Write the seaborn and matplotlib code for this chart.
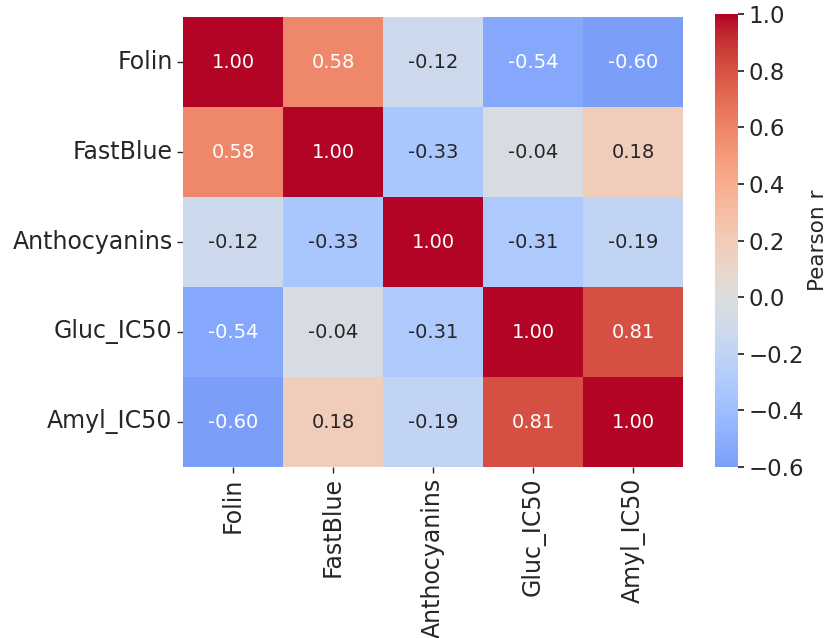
import numpy as np
import pandas as pd
import matplotlib
matplotlib.use("Agg")
import matplotlib.pyplot as plt
import seaborn as sns

# variables and their pearson correlations
labels = ["Folin", "FastBlue", "Anthocyanins", "Gluc_IC50", "Amyl_IC50"]
r_folin = [1.00, 0.58, -0.12, -0.54, -0.60]
r_fastblue = [0.58, 1.00, -0.33, -0.04, 0.18]
r_antho = [-0.12, -0.33, 1.00, -0.31, -0.19]
r_gluc = [-0.54, -0.04, -0.31, 1.00, 0.81]
r_amyl = [-0.60, 0.18, -0.19, 0.81, 1.00]

corr = pd.DataFrame([r_folin, r_fastblue, r_antho, r_gluc, r_amyl],
                    index=labels, columns=labels)

sns.set_theme(style="white")
plt.rcParams['font.family'] = ['DejaVu Sans']

fig = plt.figure(figsize=(8.3, 6.38), dpi=100)
ax = fig.add_axes([183/830, 1-467/638, 500/830, 450/638])
cax = fig.add_axes([715/830, 1-467/638, 23/830, 453/638])

sns.heatmap(corr, annot=True, fmt=".2f", cmap="coolwarm", center=0,
            ax=ax, cbar_ax=cax, annot_kws={"size": 14},
            cbar_kws={"label": "Pearson r"})

ax.tick_params(axis='both', labelsize=17, length=4, width=1, left=True, bottom=True)
ax.tick_params(axis='x', rotation=90)
ax.tick_params(axis='y', rotation=0)
cax.tick_params(labelsize=16.5, length=4, right=True)
cax.set_ylabel("Pearson r", fontsize=15.5, labelpad=3)

fig.savefig("out.png", dpi=100)
